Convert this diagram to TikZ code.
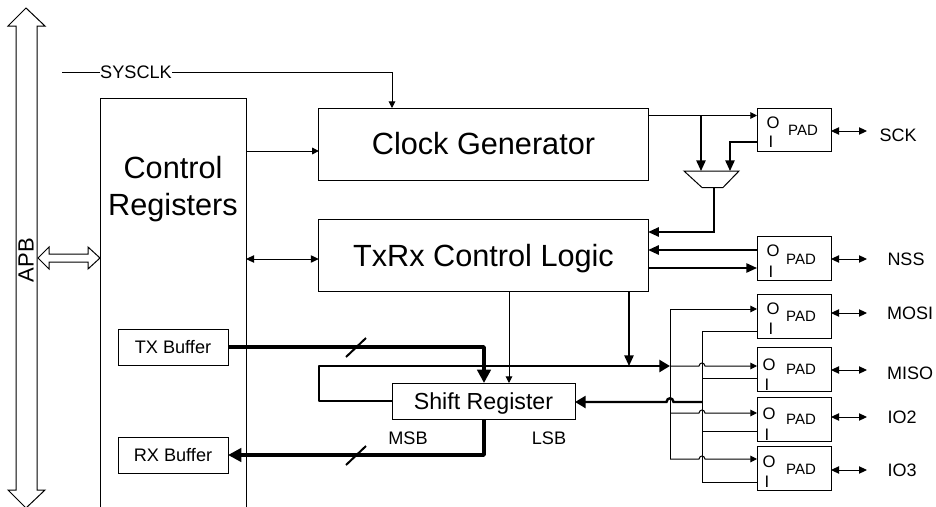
\documentclass[tikz,border=0pt]{standalone}
\usepackage{fontspec}
\setmainfont{Liberation Sans}
\usetikzlibrary{arrows.meta,calc}
\tikzset{
  x=0.75pt,y=-0.75pt,
  box/.style={draw=black,line width=0.75pt,rectangle,inner sep=0pt,outer sep=0pt,fill=white},
  thinline/.style={draw=black,line width=0.75pt},
  midline/.style={draw=black,line width=1.2pt},
  thickline/.style={draw=black,line width=2.8pt},
  tipS/.style={-{Triangle[length=5pt,width=5pt]}},
  tipSS/.style={{Triangle[length=6pt,width=5.5pt]}-{Triangle[length=6pt,width=5.5pt]}},
  tipM/.style={-{Triangle[length=8pt,width=7pt]}},
  tipL/.style={-{Triangle[length=8pt,width=9pt]}},
  tipXL/.style={-{Triangle[length=10pt,width=10pt]}},
  big/.style={font=\fontsize{23pt}{28pt}\selectfont,align=center},
  mid/.style={font=\fontsize{17.4pt}{20pt}\selectfont},
  small/.style={font=\fontsize{13.6pt}{15pt}\selectfont},
  padt/.style={font=\fontsize{11.25pt}{13pt}\selectfont,inner sep=0pt},
  oit/.style={font=\fontsize{12.5pt}{14pt}\selectfont,inner sep=0pt},
  sig/.style={font=\fontsize{13.5pt}{16pt}\selectfont,inner sep=0pt},
  padbox/.style={box,minimum width=55.5pt,minimum height=32.5pt},
}
\begin{document}
\begin{tikzpicture}
\path[use as bounding box,fill=white] (0,0) rectangle (936,507);

% APB double block arrow
\draw[line width=0.75pt,line join=miter,fill=white]
  (26,8) -- (45,26) -- (37,26) -- (37,490) -- (45,490) -- (26,508) -- (8,490) -- (16,490) -- (16,26) -- (8,26) -- cycle;
\node[rotate=90,font=\fontsize{16.5pt}{20pt}\selectfont,inner sep=0pt] (apb) at (26,260) {APB};

% APB <-> control registers
\draw[line width=0.75pt,fill=white]
  (38,258) -- (49,247) -- (49,254) -- (88,254) -- (88,247) -- (100,258) -- (88,269) -- (88,262) -- (49,262) -- (49,269) -- cycle;

% Control registers (open at the bottom)
\draw[thinline] (100,507) -- (100,98) -- (246,98) -- (246,507);
\node[big] (ctrl) at (173,189) {Control\\Registers};
\coordinate (ctrlR) at (246,186);

% Blocks
\node[box,minimum width=247pt,minimum height=54pt,big] (clk) at (483.5,144) {Clock Generator};
\node[box,minimum width=247pt,minimum height=54pt,big,text depth=0pt] (txrx) at (483.5,255) {TxRx Control Logic};
\node[box,minimum width=137.25pt,minimum height=27pt,mid,text depth=0pt] (shift) at (483.5,401) {Shift Register};
\node[box,minimum width=82.5pt,minimum height=27pt,small] (txb) at (173,347) {TX Buffer};
\node[box,minimum width=82.5pt,minimum height=27pt,small] (rxb) at (173,455) {RX Buffer};

% Pads
\node[padbox] (psck) at (794,130) {};
\node[padbox] (pnss) at (794,258.5) {};
\node[padbox] (pmosi) at (794,316.5) {};
\node[padbox] (pmiso) at (794,369.5) {};
\node[padbox] (pio2) at (794,419.5) {};
\node[padbox] (pio3) at (794,468.5) {};

\node[oit] (osck) at (773,123) {O}; \node[oit] (isck) at (771,142) {I}; \node[padt] (tsck) at (803,130) {PAD};
\node[oit] (onss) at (773,251) {O}; \node[oit] (inss) at (771,272) {I}; \node[padt] (tnss) at (801,259) {PAD};
\node[oit] (omosi) at (773,309) {O}; \node[oit] (imosi) at (771,329) {I}; \node[padt] (tmosi) at (801,316) {PAD};
\node[oit] (omiso) at (769,365) {O}; \node[oit] (imiso) at (767,385) {I}; \node[padt] (tmiso) at (801,369) {PAD};
\node[oit] (oio2) at (769,414) {O}; \node[oit] (iio2) at (767,435) {I}; \node[padt] (tio2) at (801,419) {PAD};
\node[oit] (oio3) at (769,462) {O}; \node[oit] (iio3) at (767,482) {I}; \node[padt] (tio3) at (801,469) {PAD};

% Pin names
\node[sig] (sck) at (898,135) {SCK};
\node[sig] (nss) at (906,259) {NSS};
\node[sig] (mosi) at (910,313) {MOSI};
\node[sig] (miso) at (910,373) {MISO};
\node[sig] (io2) at (902,417) {IO2};
\node[sig] (io3) at (902,470) {IO3};

% Pad <-> pin
\coordinate (esck) at (867,131); \coordinate (enss) at (867,259); \coordinate (emosi) at (867,313);
\coordinate (emiso) at (867,370); \coordinate (eio2) at (867,417); \coordinate (eio3) at (867,470);
\draw[thinline,tipSS] (psck.east |- esck) -- (esck);
\draw[thinline,tipSS] (pnss.east |- enss) -- (enss);
\draw[thinline,tipSS] (pmosi.east |- emosi) -- (emosi);
\draw[thinline,tipSS] (pmiso.east |- emiso) -- (emiso);
\draw[thinline,tipSS] (pio2.east |- eio2) -- (eio2);
\draw[thinline,tipSS] (pio3.east |- eio3) -- (eio3);

% SYSCLK
\coordinate (sysS) at (62,72);
\node[small,inner sep=0pt,fill=white,minimum height=8pt] (sys) at (136,72) {SYSCLK};
\coordinate (sysT) at (392,72);
\draw[thinline] (sysS) -- (sys.west);
\draw[thinline,tipS] (sys.east) -- (sysT) -- (sysT |- clk.north);

% Control <-> blocks
\coordinate (y1) at (0,151); \coordinate (y2) at (0,259);
\draw[thinline,tipS] (ctrlR |- y1) -- (clk.west |- y1);
\draw[thinline,tipSS] (ctrlR |- y2) -- (txrx.west |- y2);

% Clock generator to SCK pad and mux
\coordinate (yo) at (0,115.5); \coordinate (yi) at (0,142);
\draw[thinline,tipS] (clk.east |- yo) -- (psck.west |- yo);
\coordinate (m1) at (701,171); \coordinate (m2) at (730,171);
\draw[midline,tipM] (m1 |- yo) -- (m1);
\draw[midline,tipM] (psck.west |- yi) -- (m2 |- yi) -- (m2);
\draw[thinline] (684,171) -- (739,171) -- (723,187.5) -- (702,187.5) -- cycle;
\coordinate (mo) at (714,187.5); \coordinate (ym) at (0,232);
\draw[midline,tipM] (mo) -- (mo |- ym) -- (txrx.east |- ym);

% NSS
\coordinate (yn1) at (0,250); \coordinate (yn2) at (0,268);
\draw[midline,tipM] (pnss.west |- yn1) -- (txrx.east |- yn1);
\draw[midline,tipM] (txrx.east |- yn2) -- (pnss.west |- yn2);

% Thick data paths
\coordinate (txc) at (484,347); \coordinate (rxc) at (484,455);
\draw[thickline,tipXL,line join=round] (txb.east) -- (txc) -- (txc |- shift.north);
\draw[thickline,tipXL,line join=round] (shift.south -| rxc) -- (rxc) -- (rxb.east |- rxc);
\draw[line width=1.5pt] (346,357) -- (366,338);
\draw[line width=1.5pt] (346,465) -- (366,446);
\node[small,inner sep=0pt] (msb) at (408,438) {MSB};
\node[small,inner sep=0pt] (lsb) at (549,438) {LSB};

% Control to shift register
\coordinate (cs) at (509,291);
\draw[thinline,tipS] (cs) -- (cs |- shift.north);

% Shift output loop to the bus
\coordinate (bl) at (319,366); \coordinate (bo) at (670,366);
\draw[draw=black,line width=1.8pt,tipL,line join=round] (shift.west) -- (bl |- shift.west) -- (bl) -- (bo);
\coordinate (ctd) at (629,291);
\draw[midline,tipM] (ctd) -- (ctd |- bo);

% Output bus x=670
\coordinate (ymo) at (0,309); \coordinate (ymi) at (0,366); \coordinate (yio2) at (0,413); \coordinate (yio3) at (0,459);
\draw[thinline,tipS] (670,459) -- (670 ,309) -- (pmosi.west |- ymo);
\draw[thinline,tipS] (bo) -- (699,366) .. controls (699.5,362) and (704.5,362) .. (705,366) -- (pmiso.west |- ymi);
\draw[thinline,tipS] (670,413) -- (699,413) .. controls (699.5,409) and (704.5,409) .. (705,413) -- (pio2.west |- yio2);
\draw[thinline,tipS] (670,459) -- (699,459) .. controls (699.5,455) and (704.5,455) .. (705,459) -- (pio3.west |- yio3);

% Input bus x=702
\coordinate (yi1) at (0,331); \coordinate (yi2) at (0,378); \coordinate (yi3) at (0,431); \coordinate (yi4) at (0,482);
\coordinate (ib) at (702,331);
\draw[thinline] (pmosi.west |- yi1) -- (ib) -- (ib |- yi4) -- (pio3.west |- yi4);
\draw[thinline] (pmiso.west |- yi2) -- (ib |- yi2);
\draw[thinline] (pio2.west |- yi3) -- (ib |- yi3);

% Input to shift register (thick, jumps x=670)
\coordinate (yb) at (0,402);
\draw[midline,line width=1.8pt,tipL] (ib |- yb) -- (673.5,402) .. controls (673,397) and (667,397) .. (666.5,402) -- (shift.east |- yb);
\end{tikzpicture}
\end{document}
